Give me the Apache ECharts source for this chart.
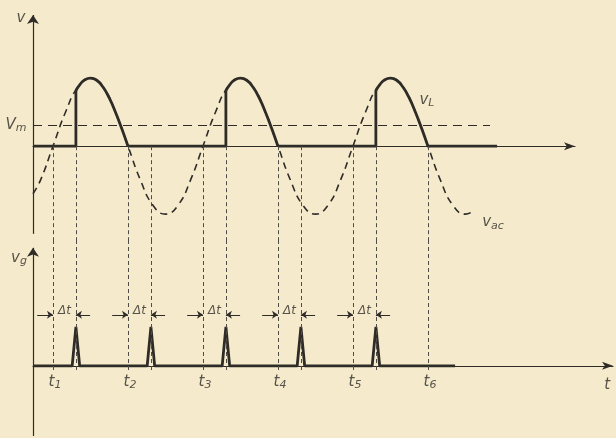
<!DOCTYPE html>
<html>
<head>
<meta charset="utf-8">
<script src="https://cdn.jsdelivr.net/npm/echarts@6/dist/echarts.min.js"></script>
<style>
  html, body { margin: 0; padding: 0; background: #f5ebcc; }
  #chart { width: 616px; height: 438px; }
</style>
</head>
<body>
<div id="chart"></div>
<script>
// angle in degrees of wt, voltage in units of the supply peak
var vacAngle = [-48, -30, 0, 30, 60, 90, 120, 150, 180, 210, 240, 270, 300, 330,
  360, 390, 420, 450, 480, 510, 540, 570, 600, 630, 660, 690,
  720, 750, 780, 810, 840, 870, 900, 930, 960, 990, 1005]
var vacValue = [-0.7, -0.5, 0, 0.5, 0.87, 1, 0.87, 0.5, 0, -0.5, -0.87, -1, -0.87, -0.5,
  0, 0.5, 0.87, 1, 0.87, 0.5, 0, -0.5, -0.87, -1, -0.87, -0.5,
  0, 0.5, 0.87, 1, 0.87, 0.5, 0, -0.5, -0.87, -1, -0.97]
var tMarks = [0, 180, 360, 540, 720, 900]
var tNames = ['1', '2', '3', '4', '5', '6']
var fireMarks = [55, 235, 415, 595, 775]
var vmLevel = 0.31
// load voltage: flat parts with the step up at firing
var vlBase = [
  [[-48, 0], [55, 0], [55, 0.82]],
  [[180, 0], [415, 0], [415, 0.82]],
  [[540, 0], [775, 0], [775, 0.82]],
  [[900, 0], [1066, 0]]
]
// load voltage: conducting humps
var vlHumps = [
  [[55, 0.82], [65, 0.91], [75, 0.97], [90, 1], [105, 0.97], [120, 0.87], [135, 0.71], [150, 0.5], [165, 0.26], [180, 0]],
  [[415, 0.82], [425, 0.91], [435, 0.97], [450, 1], [465, 0.97], [480, 0.87], [495, 0.71], [510, 0.5], [525, 0.26], [540, 0]],
  [[775, 0.82], [785, 0.91], [795, 0.97], [810, 1], [825, 0.97], [840, 0.87], [855, 0.71], [870, 0.5], [885, 0.26], [900, 0]]
]
// gate pulses
var gatePulse = [[-48, 0], [46, 0], [55, 1], [64, 0], [226, 0], [235, 1], [244, 0],
  [406, 0], [415, 1], [424, 0], [586, 0], [595, 1], [604, 0],
  [766, 0], [775, 1], [784, 0], [965, 0]]

var ink = '#2f2c28'
var font = 'DejaVu Sans'
var rich = {
  m: { fontSize: 15, fontStyle: 'italic', fontFamily: font, color: ink, lineHeight: 18 },
  s: { fontSize: 11, fontStyle: 'italic', fontFamily: font, color: ink, lineHeight: 9, verticalAlign: 'bottom' },
  d: { fontSize: 12, fontStyle: 'italic', fontFamily: font, color: ink }
}

function txt (x, y, fmt, offset) {
  return {
    value: [x, y],
    label: { show: true, position: 'inside', formatter: fmt, offset: offset || [0, 0], rich: rich }
  }
}

function seg (a, b, opts) {
  return [Object.assign({ coord: a }, opts || {}), { coord: b }]
}

var chart = echarts.init(document.getElementById('chart'))

var thick = { color: ink, width: 2.8 }
var dashV = { color: '#4f4b46', width: 1, type: [4, 3] }

var topDash = tMarks.concat(fireMarks).map(function (x) { return seg([x, 0], [x, -1.38]) })
var lowDash = tMarks.concat(fireMarks).map(function (x) { return seg([x, 3.23], [x, -0.15]) })
var dtArrows = []
fireMarks.forEach(function (f, i) {
  dtArrows.push(seg([tMarks[i] - 38, 1.31], [tMarks[i], 1.31]))
  dtArrows.push(seg([f + 34, 1.31], [f, 1.31]))
})

var series = [
  {
    type: 'line',
    xAxisIndex: 0,
    yAxisIndex: 0,
    smooth: true,
    showSymbol: false,
    data: vacAngle.map(function (a, i) { return [a, vacValue[i]] }),
    lineStyle: { color: ink, width: 1.6, type: [7, 5] }
  },
  {
    type: 'line',
    xAxisIndex: 0,
    yAxisIndex: 0,
    data: [],
    markLine: {
      silent: true,
      symbol: ['none', 'none'],
      label: { show: false },
      lineStyle: dashV,
      data: topDash.concat([seg([-48, vmLevel], [1049, vmLevel], { lineStyle: { color: ink, width: 1.2, type: [9, 6] } })])
    }
  },
  {
    type: 'line',
    xAxisIndex: 0,
    yAxisIndex: 0,
    data: [],
    markLine: {
      silent: true,
      symbol: ['none', 'arrow'],
      symbolSize: 9,
      label: { show: false },
      lineStyle: { color: ink, width: 1.2, type: 'solid' },
      data: [seg([-48, -1.29], [-48, 1.93])]
    }
  }
]
vlBase.forEach(function (d) {
  series.push({ type: 'line', xAxisIndex: 0, yAxisIndex: 0, showSymbol: false, data: d, lineStyle: thick })
})
vlHumps.forEach(function (d) {
  series.push({ type: 'line', xAxisIndex: 0, yAxisIndex: 0, smooth: true, showSymbol: false, data: d, lineStyle: thick })
})
series.push(
  {
    type: 'scatter',
    xAxisIndex: 0,
    yAxisIndex: 0,
    symbolSize: 1,
    itemStyle: { color: 'rgba(0,0,0,0)' },
    data: [
      txt(-48, 1.93, '{m|v}', [-12, 3]),
      txt(-48, vmLevel, '{m|V}{s|m}', [-17, 0]),
      txt(876, 0.68, '{m|v}{s|L}', [9, 0]),
      txt(1025, -1.12, '{m|v}{s|ac}', [13, 0])
    ]
  },
  {
    type: 'line',
    xAxisIndex: 1,
    yAxisIndex: 1,
    showSymbol: false,
    data: gatePulse,
    lineStyle: thick
  },
  {
    type: 'line',
    xAxisIndex: 1,
    yAxisIndex: 1,
    data: [],
    markLine: {
      silent: true,
      symbol: ['none', 'none'],
      label: { show: false },
      lineStyle: dashV,
      data: lowDash
    }
  },
  {
    type: 'line',
    xAxisIndex: 1,
    yAxisIndex: 1,
    data: [],
    markLine: {
      silent: true,
      symbol: ['none', 'arrow'],
      symbolSize: 6,
      label: { show: false },
      lineStyle: { color: ink, width: 1, type: 'solid' },
      data: dtArrows
    }
  },
  {
    type: 'line',
    xAxisIndex: 1,
    yAxisIndex: 1,
    data: [],
    markLine: {
      silent: true,
      symbol: ['none', 'arrow'],
      symbolSize: 9,
      label: { show: false },
      lineStyle: { color: ink, width: 1.2, type: 'solid' },
      data: [seg([-48, -1.8], [-48, 3.03])]
    }
  },
  {
    type: 'scatter',
    xAxisIndex: 1,
    yAxisIndex: 1,
    symbolSize: 1,
    itemStyle: { color: 'rgba(0,0,0,0)' },
    data: [txt(-48, 2.77, '{m|v}{s|g}', [-14, 0]), txt(1330, -0.49, '{m|t}')]
      .concat(tMarks.map(function (t, i) { return txt(t, -0.41, '{m|t}{s|' + tNames[i] + '}', [2, 0]) }))
      .concat(fireMarks.map(function (f, i) { return txt((tMarks[i] + f) / 2, 1.41, '{d|\u0394t}') }))
  }
)

function xAx (idx, max) {
  return {
    gridIndex: idx,
    type: 'value',
    min: -48,
    max: max,
    axisLine: { onZero: true, symbol: ['none', 'arrow'], symbolSize: [6, 11], lineStyle: { color: ink, width: 1.2 } },
    axisTick: { show: false },
    axisLabel: { show: false },
    splitLine: { show: false }
  }
}
function yAx (idx, min, max) {
  return {
    gridIndex: idx,
    type: 'value',
    min: min,
    max: max,
    axisLine: { show: false },
    axisTick: { show: false },
    axisLabel: { show: false },
    splitLine: { show: false }
  }
}

chart.setOption({
  backgroundColor: '#f5ebcc',
  animation: false,
  grid: [
    { left: 33, top: 15, width: 542, height: 225 },
    { left: 33, top: 240, width: 580, height: 196 }
  ],
  xAxis: [xAx(0, 1253), xAx(1, 1344)],
  yAxis: [yAx(0, -1.38, 1.93), yAx(1, -1.8, 3.23)],
  series: series
})
</script>
</body>
</html>
